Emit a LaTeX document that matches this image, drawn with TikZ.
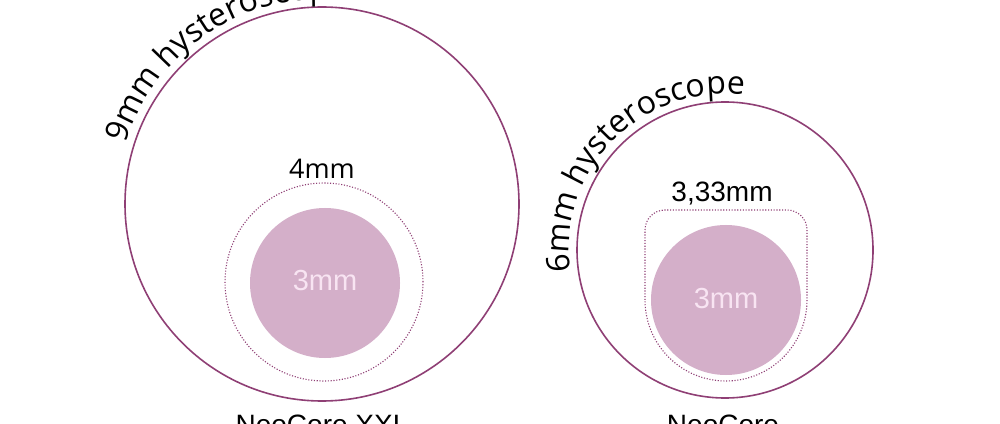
\documentclass[tikz,border=0pt]{standalone}
\usepackage{fontspec}
\usepackage{tikz}
\usetikzlibrary{decorations.text}
\newfontfamily\arcfont{Open Sans}
\newfontfamily\labelfont{Liberation Sans}
\definecolor{rim}{HTML}{8F3F75}
\definecolor{core}{HTML}{D4AFC9}
\definecolor{corelabel}{HTML}{F8E4F2}
\tikzset{
  scope rim/.style={draw=rim, line width=1.6pt},
  tube/.style={draw=rim, line width=1.1pt, dash pattern=on 1.1pt off 1.7pt},
  core disc/.style={fill=core},
  core text/.style={text=corelabel, font=\labelfont\fontsize{29}{29}\selectfont},
  size text/.style={font=\labelfont\fontsize{28}{28}\selectfont},
  name text/.style={font=\labelfont\fontsize{28}{28}\selectfont, anchor=base}
}
\begin{document}
\begin{tikzpicture}[x=1pt,y=1pt]
                \useasboundingbox [fill=white] (0,0) rectangle (1000,423);
                % NeoCore XXL in the 9mm scope
                \draw [scope rim] (322,219) circle [radius=197];
                \draw [tube] (324,141) circle [radius=99];
                \path [core disc] (325,140) circle [radius=75];
                \node [core text] (xxlcore) at (325,142) {3mm};
                \node [font=\arcfont\fontsize{27}{27}\selectfont] (xxltube) at (322,254) {4mm};
                \path [decorate, decoration={text along path, text align=left,
                    text={|\arcfont\fontsize{32}{32}\selectfont|9mm hysteroscope}}]
                    (322,219) ++(163:205) arc [start angle=163, end angle=20, radius=205];
                \node [name text] (xxlname) at (322,-11) {NeoCore XXL};
                % NeoCore in the 6mm scope
                \draw [scope rim] (725,173) circle [radius=148];
                \draw [tube] (645,123) -- (645,193) arc [start angle=180, end angle=90, radius=20]
                    -- (787,213) arc [start angle=90, end angle=0, radius=20]
                    -- (807,123) arc [start angle=0, end angle=-180, radius=81];
                \path [core disc] (726,123) circle [radius=75];
                \node [core text] (core) at (726,124) {3mm};
                \node [size text] (tube) at (722,229) {3,33mm};
                \path [decorate, decoration={text along path, text align=left,
                    text={|\arcfont\fontsize{32}{32}\selectfont|6mm hysteroscope}}]
                    (725,173) ++(188:156) arc [start angle=188, end angle=20, radius=156];
                \node [name text] (name) at (723,-11) {NeoCore};
            \end{tikzpicture}
\end{document}
